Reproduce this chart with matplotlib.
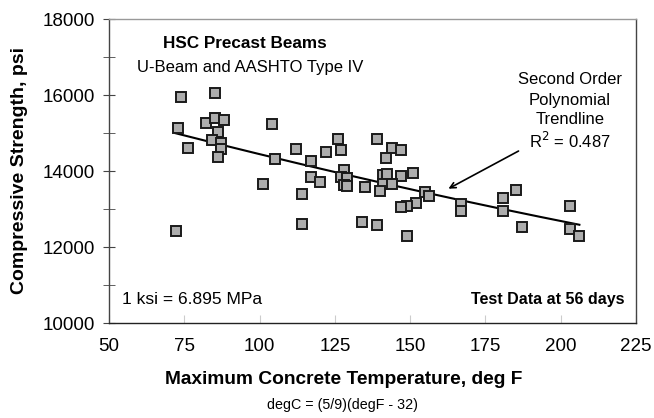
import numpy as np
import matplotlib
matplotlib.use("Agg")
import matplotlib.pyplot as plt

plt.rcParams['font.family'] = ['Liberation Sans', 'DejaVu Sans']

# --- data (deg F, psi) ---
temp_f = [74.0, 85.2, 73.0, 82.1, 85.2, 88.1, 86.1, 84.1, 87.1, 87.1,
          86.1, 76.1, 104.0, 105.1, 101.0, 72.1, 112.1, 117.0, 117.0, 120.1,
          114.0, 114.0, 126.0, 122.1, 126.9, 128.0, 126.9, 129.1, 128.0, 129.1,
          135.0, 134.0, 139.0, 144.1, 147.1, 142.0, 141.1, 142.2, 147.1, 151.0,
          141.1, 140.0, 144.1, 139.0, 155.0, 156.2, 151.9, 149.1, 147.1, 149.0,
          167.0, 167.0, 181.0, 185.1, 181.0, 187.0, 203.0, 203.0, 206.2]
strength_psi = [15950, 16060, 15140, 15260, 15390, 15340, 15020, 14820, 14730, 14580,
                14360, 14610, 15245, 14320, 13660, 12410, 14570, 14270, 13850, 13720,
                13395, 12600, 14850, 14510, 14550, 14030, 13850, 13820, 13630, 13605,
                13590, 12650, 14830, 14600, 14550, 14340, 13895, 13910, 13880, 13940,
                13660, 13480, 13660, 12590, 13450, 13340, 13170, 13080, 13045, 12300,
                13130, 12935, 13290, 13490, 12950, 12520, 13090, 12465, 12290]

x = np.array(temp_f)
y = np.array(strength_psi)

# second order trendline
coef = np.polyfit(x, y, 2)
xt = np.linspace(x.min(), x.max(), 200)
yt = np.polyval(coef, xt)

fig = plt.figure(figsize=(6.54, 4.18), dpi=100)
ax = fig.add_axes([109/654, 1-323/418, (636-109)/654, (323-19)/418])

ax.plot(xt, yt, color='black', lw=1.5, zorder=2)
ax.plot(x, y, ls='none', marker='s', ms=7.2, mfc='#adadad', mec='#1a1a1a', mew=1.4, zorder=3)

ax.set_xlim(50, 225)
ax.set_ylim(10000, 18000)
ax.set_xticks(np.arange(50, 226, 25))
ax.set_yticks(np.arange(10000, 18001, 2000))
ax.set_yticks(np.arange(11000, 18000, 2000), minor=True)

ax.tick_params(axis='x', direction='in', length=6, color='#cccccc', labelsize=13.5, pad=11)
ax.tick_params(axis='y', which='both', direction='inout', length=8, color='#444444', labelsize=13.5, pad=6)

ax.spines['top'].set_color('#999999')
ax.spines['right'].set_color('#444444')
ax.spines['left'].set_color('#444444')
ax.spines['bottom'].set_color('#222222')
for s in ax.spines.values():
    s.set_linewidth(1.0)

ax.set_xlabel('Maximum Concrete Temperature, deg F', fontsize=13.8, fontweight='bold', va='center')
ax.xaxis.set_label_coords(0.446, -0.1875)
ax.set_ylabel('Compressive Strength, psi', fontsize=14, fontweight='bold', va='center')
ax.yaxis.set_label_coords(-0.169, 0.5)

fig.text(0.523, 1-405/418, 'degC = (5/9)(degF - 32)', ha='center', va='center', fontsize=10.3)

ax.text(0.258, 0.921, 'HSC Precast Beams', transform=ax.transAxes, ha='center', va='center',
        fontsize=12.3, fontweight='bold')
ax.text(0.268, 0.842, 'U-Beam and AASHTO Type IV', transform=ax.transAxes, ha='center', va='center',
        fontsize=12)
ax.text(0.024, 0.0757, '1 ksi = 6.895 MPa', transform=ax.transAxes, ha='left', va='center', fontsize=12.5)
ax.text(0.978, 0.0757, 'Test Data at 56 days', transform=ax.transAxes, ha='right', va='center',
        fontsize=11.5, fontweight='bold')

for label, ypix in [('Second Order', 80), ('Polynomial', 100), ('Trendline', 120)]:
    ax.text(0.875, 1-(ypix-19)/304, label, transform=ax.transAxes,
            ha='center', va='center', fontsize=12)
ax.text(0.875, 1-(141-19)/304, 'R$^2$ = 0.487', transform=ax.transAxes,
        ha='center', va='center', fontsize=12)

ax.annotate('', xy=(161.9, 13500), xytext=(186.8, 14560),
            arrowprops=dict(arrowstyle='->', color='black', lw=1.2))

fig.savefig('out.png', dpi=100)
